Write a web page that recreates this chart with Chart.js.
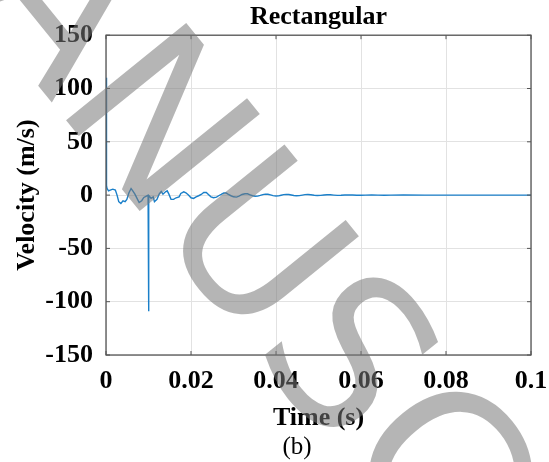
<!DOCTYPE html>
<html>
<head>
<meta charset="utf-8">
<script src="https://cdn.jsdelivr.net/npm/chart.js@4"></script>
<style>
  html, body { margin: 0; padding: 0; background: #fff; }
  #wrap { width: 549px; height: 462px; }
</style>
</head>
<body>
<div id="wrap"><canvas id="velocityChart" width="549" height="462"></canvas></div>
<script>
// time (s) and velocity (m/s)
const timeS = [
  0, 0.00012, 0.00024, 0.0006, 0.001, 0.0016, 0.0022, 0.0026, 0.003, 0.0035,
  0.004, 0.0045, 0.0049, 0.0054, 0.0059, 0.0063, 0.0068, 0.0073, 0.0078, 0.0084,
  0.0089, 0.0095, 0.0099, 0.01, 0.0101, 0.0106, 0.0111, 0.0114, 0.012, 0.0125,
  0.013, 0.0134, 0.014, 0.0144, 0.0148, 0.0153, 0.0159, 0.0165, 0.0172, 0.0176,
  0.0183, 0.0188, 0.0194, 0.02, 0.0206, 0.0212, 0.0218, 0.0224, 0.023, 0.0236,
  0.0241, 0.0247, 0.0253, 0.026, 0.0265, 0.0271, 0.0277, 0.0283, 0.0288, 0.0294,
  0.03, 0.0307, 0.0313, 0.032, 0.0327, 0.0333, 0.0339, 0.0345, 0.0351, 0.0357,
  0.0363, 0.0369, 0.0375, 0.0381, 0.0387, 0.0393, 0.04, 0.0406, 0.0412, 0.0418,
  0.0424, 0.043, 0.0436, 0.0442, 0.0448, 0.0455, 0.0462, 0.0468, 0.0475, 0.0482,
  0.049, 0.0497, 0.0505, 0.0513, 0.052, 0.0528, 0.0536, 0.0545, 0.0553, 0.0562,
  0.057, 0.058, 0.059, 0.06, 0.061, 0.0625, 0.064, 0.0655, 0.067, 0.07,
  0.075, 0.08, 0.09, 0.1
];
const velocity = [
  110, 9, 6.2, 4, 4.7, 5.6, 4.7, 0, -6.2, -7.8,
  -5.3, -6.2, -4, 2.2, 6.2, 4, 0.9, -3.1, -6.9, -5.3,
  -2.2, -0.9, 0, -109, -0.3, -3, -1.6, -6.2, -4, 0.9,
  3.4, 0.9, 3.1, 4, 0.9, -4, -4, -2.5, -1.6, 1.6,
  3.1, 2.2, 0, -2.5, -3.1, -1.6, -0.6, 0.6, 2.5, 2.5,
  0.6, -1.6, -2.5, -1.9, -0.6, 0.6, 1.9, 1.9, 0.6, -0.6,
  -1.6, -1.9, -0.9, 0.6, 1.2, 1.2, 0.3, -0.6, -1.1, -1.0,
  -0.3, 0.5, 0.9, 0.8, 0.2, -0.5, -0.8, -0.7, -0.1, 0.4,
  0.6, 0.6, 0.1, -0.4, -0.6, -0.5, 0, 0.4, 0.5, 0.3,
  -0.2, -0.4, -0.3, 0.1, 0.3, 0.3, 0, -0.3, -0.2, 0.1,
  0.2, 0.1, -0.1, -0.2, 0, 0.1, 0, -0.1, 0, 0.1,
  0, 0, 0, 0
];
const xTicks = [0, 0.02, 0.04, 0.06, 0.08, 0.1];
const xTickLabels = ['0', '0.02', '0.04', '0.06', '0.08', '0.1'];
const yTicks = [-150, -100, -50, 0, 50, 100, 150];
const yTickLabels = ['-150', '-100', '-50', '0', '50', '100', '150'];

const AXIS_COLOR = '#555555';
const SERIF = "'Liberation Serif', 'Times New Roman', serif";

// MATLAB-style box: top/right edges and inward ticks on all sides
const boxPlugin = {
  id: 'box',
  afterDatasetsDraw(chart) {
    const { ctx, chartArea: a, scales } = chart;
    ctx.save();
    ctx.strokeStyle = AXIS_COLOR;
    ctx.lineWidth = 1.3;
    ctx.strokeRect(a.left, a.top, a.right - a.left, a.bottom - a.top);
    ctx.lineWidth = 1;
    ctx.beginPath();
    xTicks.forEach(v => {
      const px = scales.x.getPixelForValue(v);
      ctx.moveTo(px, a.bottom); ctx.lineTo(px, a.bottom - 4);
      ctx.moveTo(px, a.top); ctx.lineTo(px, a.top + 4);
    });
    yTicks.forEach(v => {
      const py = scales.y.getPixelForValue(v);
      ctx.moveTo(a.left, py); ctx.lineTo(a.left + 4, py);
      ctx.moveTo(a.right, py); ctx.lineTo(a.right - 4, py);
    });
    ctx.stroke();
    ctx.restore();
  }
};

// figure caption under the axes, a bit left of the plot centre
const captionPlugin = {
  id: 'caption',
  afterDraw(chart) {
    const ctx = chart.ctx;
    ctx.save();
    ctx.font = "25px 'Liberation Serif'";
    ctx.fillStyle = '#000';
    ctx.textAlign = 'center';
    ctx.textBaseline = 'middle';
    ctx.fillText('(b)', 297, 447);
    ctx.restore();
  }
};

// diagonal "manuscript" watermark over the figure
const watermarkPlugin = {
  id: 'watermark',
  afterDraw(chart) {
    const ctx = chart.ctx;
    ctx.save();
    ctx.font = "212px 'DejaVu Sans'";
    ctx.fillStyle = 'rgba(120,120,120,0.55)';
    ctx.textBaseline = 'alphabetic';
    const lead = ctx.measureText('A').width;
    ctx.translate(53, 104);
    ctx.rotate(51 * Math.PI / 180);
    ctx.fillText('ANUSC', -lead, 0);
    ctx.restore();
  }
};

new Chart(document.getElementById('velocityChart').getContext('2d'), {
  type: 'line',
  data: {
    datasets: [{
      data: timeS.map((t, i) => ({ x: t, y: velocity[i] })),
      borderColor: '#1a7fc9',
      borderWidth: 1.4,
      pointRadius: 0,
      tension: 0,
      fill: false
    }]
  },
  options: {
    responsive: false,
    animation: false,
    devicePixelRatio: 1,
    layout: { padding: { left: 0, right: 18, top: 0, bottom: 30 } },
    plugins: {
      legend: { display: false },
      tooltip: { enabled: false },
      title: {
        display: true,
        fullSize: false,
        text: 'Rectangular',
        color: '#000',
        font: { family: SERIF, size: 26, weight: 'bold', lineHeight: 1.2 },
        padding: { top: 2, bottom: 2 }
      }
    },
    scales: {
      x: {
        type: 'linear',
        min: 0,
        max: 0.1,
        afterFit(scale) {
          scale.height = 77;
          scale.paddingLeft = 0;
          scale.paddingRight = 0;
        },
        afterBuildTicks(scale) { scale.ticks = xTicks.map(v => ({ value: v })); },
        ticks: {
          padding: 11,
          color: '#000',
          maxRotation: 0,
          font: { family: SERIF, size: 26, weight: 'bold' },
          callback: (v, i) => xTickLabels[i]
        },
        grid: { color: '#e2e2e2', lineWidth: 1, drawTicks: false },
        border: { display: false },
        title: {
          display: true,
          text: 'Time (s)',
          color: '#000',
          font: { family: SERIF, size: 26, weight: 'bold' },
          padding: { top: 0, bottom: -2 }
        }
      },
      y: {
        min: -150,
        max: 150,
        afterFit(scale) {
          scale.width = 106;
          scale.paddingTop = 0;
          scale.paddingBottom = 0;
        },
        afterBuildTicks(scale) { scale.ticks = yTicks.map(v => ({ value: v })); },
        ticks: {
          padding: 13,
          color: '#000',
          font: { family: SERIF, size: 26, weight: 'bold' },
          callback: (v, i) => yTickLabels[i]
        },
        grid: { color: '#e2e2e2', lineWidth: 1, drawTicks: false },
        border: { display: false },
        title: {
          display: true,
          text: 'Velocity (m/s)',
          color: '#000',
          font: { family: SERIF, size: 26, weight: 'bold' },
          padding: { top: 12, bottom: 0 }
        }
      }
    }
  },
  plugins: [boxPlugin, captionPlugin, watermarkPlugin]
});
</script>
</body>
</html>
